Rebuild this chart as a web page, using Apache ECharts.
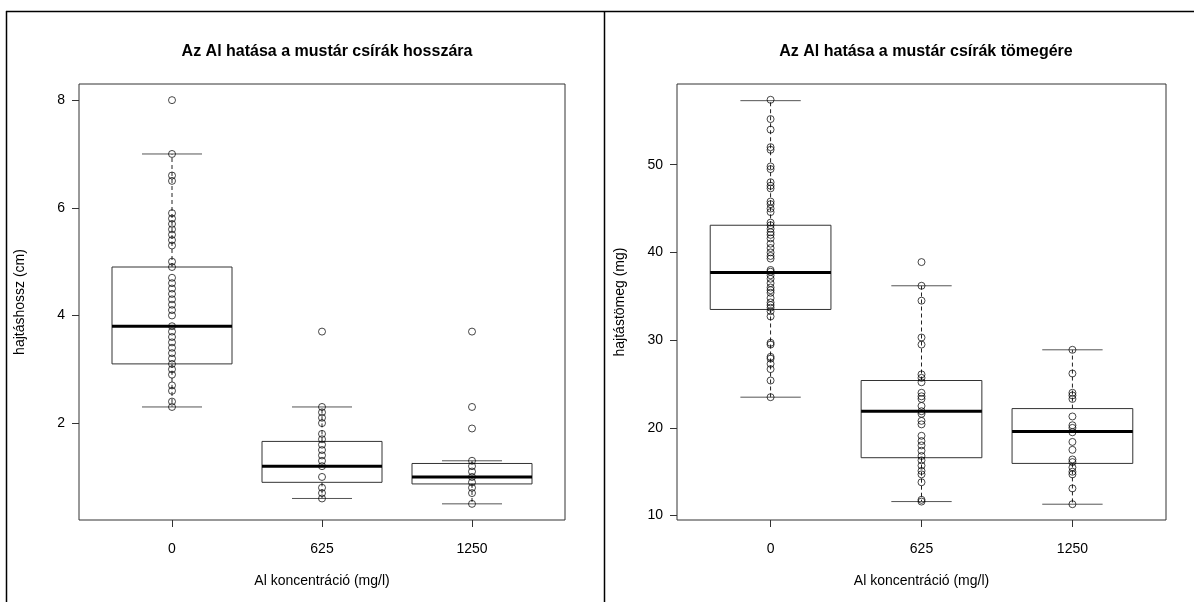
<!DOCTYPE html>
<html>
<head>
<meta charset="utf-8">
<script src="https://cdn.jsdelivr.net/npm/echarts@6/dist/echarts.min.js"></script>
<style>
html,body{margin:0;padding:0;background:#fff;}
#chart{width:1194px;height:602px;}
</style>
</head>
<body>
<div id="chart"></div>
<script>
// ---------- data ----------
const categories = ['0', '625', '1250'];

// Left: shoot length (cm)
const lenPoints0 = [8.0, 7.0, 6.6, 6.5, 5.9, 5.8, 5.7, 5.6, 5.5, 5.4, 5.3, 5.0, 4.9, 4.7, 4.6, 4.5, 4.4, 4.3, 4.2, 4.1, 4.0, 3.8, 3.7, 3.6, 3.5, 3.4, 3.3, 3.2, 3.1, 3.0, 2.9, 2.7, 2.6, 2.4, 2.3];
const lenPoints625 = [3.7, 2.3, 2.2, 2.1, 2.0, 1.8, 1.7, 1.6, 1.5, 1.4, 1.3, 1.2, 1.0, 0.8, 0.7, 0.6];
const lenPoints1250 = [3.7, 2.3, 1.9, 1.3, 1.2, 1.1, 1.0, 0.9, 0.8, 0.7, 0.5];
// [lower whisker, Q1, median, Q3, upper whisker]
const lenBox0 = [2.3, 3.1, 3.8, 4.9, 7.0];
const lenBox625 = [0.6, 0.9, 1.2, 1.66, 2.3];
const lenBox1250 = [0.5, 0.87, 1.0, 1.25, 1.3];
const lenTicks = [2, 4, 6, 8];

// Right: shoot mass (mg)
const massPoints0 = [57.4, 55.2, 54.0, 52.0, 51.7, 49.8, 49.5, 48.0, 47.6, 47.3, 45.8, 45.5, 45.0, 44.6, 43.4, 43.1, 42.7, 42.3, 42.0, 41.6, 41.0, 40.5, 40.0, 39.6, 39.3, 38.0, 37.8, 37.4, 37.0, 36.5, 36.0, 35.7, 35.4, 34.8, 34.3, 34.0, 33.7, 33.3, 32.7, 29.7, 29.5, 28.1, 27.9, 27.3, 26.7, 25.4, 23.5];
const massPoints625 = [38.9, 36.2, 34.5, 30.3, 29.5, 26.1, 25.7, 25.2, 24.0, 23.6, 23.3, 22.5, 21.9, 21.6, 20.8, 20.4, 19.1, 18.5, 18.0, 17.4, 16.8, 16.3, 15.7, 15.1, 14.7, 13.8, 11.8, 11.6];
const massPoints1250 = [28.9, 26.2, 24.0, 23.7, 23.3, 21.3, 20.3, 20.0, 19.5, 18.4, 17.5, 16.4, 16.1, 15.5, 15.0, 14.7, 13.1, 11.3];
const massBox0 = [23.5, 33.5, 37.7, 43.1, 57.3];
const massBox625 = [11.6, 16.6, 21.9, 25.4, 36.2];
const massBox1250 = [11.3, 15.95, 19.6, 22.2, 28.9];
const massTicks = [10, 20, 30, 40, 50];

// ---------- helpers ----------
function boxData(boxes) {
  return boxes.map((b, i) => [i + 1].concat(b));
}
function pointData(groups) {
  const out = [];
  groups.forEach((g, i) => g.forEach(v => out.push([i + 1, v])));
  return out;
}
function renderBox(params, api) {
  const x = api.value(0);
  const lo = api.value(1), q1 = api.value(2), med = api.value(3), q3 = api.value(4), hi = api.value(5);
  const tl = api.coord([x - 0.4, q3]);
  const br = api.coord([x + 0.4, q1]);
  const cL = api.coord([x - 0.2, lo]);
  const cR = api.coord([x + 0.2, lo]);
  const hL = api.coord([x - 0.2, hi]);
  const hR = api.coord([x + 0.2, hi]);
  const mL = api.coord([x - 0.4, med]);
  const mR = api.coord([x + 0.4, med]);
  const c = api.coord([x, q1]);
  const cTop = api.coord([x, q3]);
  const lw = api.coord([x, lo]);
  const hw = api.coord([x, hi]);
  return {
    type: 'group',
    children: [
      {type: 'line', shape: {x1: c[0], y1: c[1], x2: lw[0], y2: lw[1]}, style: {stroke: '#222', lineWidth: 1, lineDash: [4, 3]}},
      {type: 'line', shape: {x1: cTop[0], y1: cTop[1], x2: hw[0], y2: hw[1]}, style: {stroke: '#222', lineWidth: 1, lineDash: [4, 3]}},
      {type: 'line', shape: {x1: cL[0], y1: cL[1], x2: cR[0], y2: cR[1]}, style: {stroke: '#555', lineWidth: 1}},
      {type: 'line', shape: {x1: hL[0], y1: hL[1], x2: hR[0], y2: hR[1]}, style: {stroke: '#555', lineWidth: 1}},
      {type: 'rect', shape: {x: tl[0], y: tl[1], width: br[0] - tl[0], height: br[1] - tl[1]}, style: {stroke: '#333', lineWidth: 1, fill: 'rgba(0,0,0,0)'}},
      {type: 'line', shape: {x1: mL[0], y1: mL[1], x2: mR[0], y2: mR[1]}, style: {stroke: '#000', lineWidth: 3}}
    ]
  };
}

const FONT = 'Liberation Sans, Arial, sans-serif';

function xAxisCfg(gridIndex) {
  return {
    type: 'value', gridIndex: gridIndex, min: 0.38, max: 3.62,
    name: 'Al koncentráció (mg/l)', nameLocation: 'middle', nameGap: 54,
    nameTextStyle: {fontFamily: FONT, fontSize: 14, color: '#000'},
    axisLine: {show: false},
    axisTick: {show: true, length: 7, customValues: [1, 2, 3], lineStyle: {color: '#333'}},
    axisLabel: {customValues: [1, 2, 3], formatter: v => categories[Math.round(v) - 1], fontFamily: FONT, fontSize: 14, color: '#000', margin: 22},
    splitLine: {show: false}
  };
}
function yAxisCfg(gridIndex, name, min, max, ticks, gap) {
  return {
    type: 'value', gridIndex: gridIndex, min: min, max: max,
    name: name, nameLocation: 'middle', nameGap: gap, nameRotate: 90,
    nameTextStyle: {fontFamily: FONT, fontSize: 14, color: '#000'},
    axisLine: {show: false},
    axisTick: {show: true, length: 7, customValues: ticks, lineStyle: {color: '#333'}},
    axisLabel: {customValues: ticks, fontFamily: FONT, fontSize: 14, color: '#000', margin: 14},
    splitLine: {show: false}
  };
}

const chart = echarts.init(document.getElementById('chart'), null, {renderer: 'canvas'});
chart.setOption({
  animation: false,
  backgroundColor: '#fff',
  title: [
    {text: 'Az Al hatása a mustár csírák hosszára', left: 322, top: 39, textAlign: 'center',
     textStyle: {fontFamily: FONT, fontSize: 16, fontWeight: 'bold', color: '#000'}},
    {text: 'Az Al hatása a mustár csírák tömegére', left: 921, top: 39, textAlign: 'center',
     textStyle: {fontFamily: FONT, fontSize: 16, fontWeight: 'bold', color: '#000'}}
  ],
  grid: [
    {left: 79, top: 84, width: 486, height: 436, show: true, borderColor: '#333', borderWidth: 1, backgroundColor: 'transparent'},
    {left: 677, top: 84, width: 489, height: 436, show: true, borderColor: '#333', borderWidth: 1, backgroundColor: 'transparent'}
  ],
  xAxis: [xAxisCfg(0), xAxisCfg(1)],
  yAxis: [
    yAxisCfg(0, 'hajtáshossz (cm)', 0.2, 8.3, lenTicks, 52),
    yAxisCfg(1, 'hajtástömeg (mg)', 9.5, 59.2, massTicks, 50)
  ],
  graphic: [
    {type: 'line', shape: {x1: 6, y1: 11.5, x2: 1194, y2: 11.5}, style: {stroke: '#000', lineWidth: 1.5}},
    {type: 'line', shape: {x1: 6.5, y1: 11, x2: 6.5, y2: 602}, style: {stroke: '#000', lineWidth: 1.5}},
    {type: 'line', shape: {x1: 604.5, y1: 11, x2: 604.5, y2: 602}, style: {stroke: '#000', lineWidth: 1.5}}
  ],
  series: [
    {type: 'custom', xAxisIndex: 0, yAxisIndex: 0, renderItem: renderBox, data: boxData([lenBox0, lenBox625, lenBox1250]), z: 2},
    {type: 'scatter', xAxisIndex: 0, yAxisIndex: 0, symbol: 'circle', symbolSize: 7,
     itemStyle: {color: 'rgba(0,0,0,0)', borderColor: '#000', borderWidth: 0.9},
     data: pointData([lenPoints0, lenPoints625, lenPoints1250]), z: 3},
    {type: 'custom', xAxisIndex: 1, yAxisIndex: 1, renderItem: renderBox, data: boxData([massBox0, massBox625, massBox1250]), z: 2},
    {type: 'scatter', xAxisIndex: 1, yAxisIndex: 1, symbol: 'circle', symbolSize: 7,
     itemStyle: {color: 'rgba(0,0,0,0)', borderColor: '#000', borderWidth: 0.9},
     data: pointData([massPoints0, massPoints625, massPoints1250]), z: 3}
  ]
});
</script>
</body>
</html>
